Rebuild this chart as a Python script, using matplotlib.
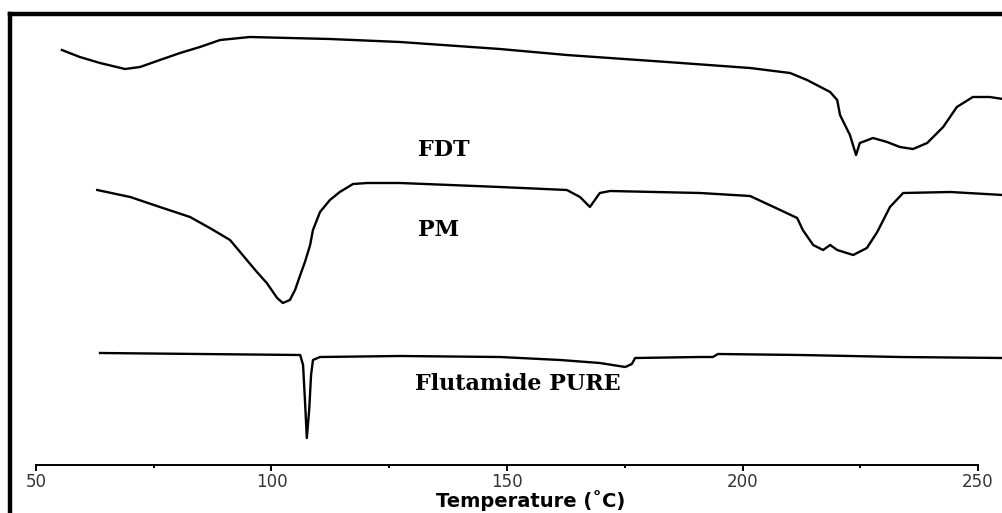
import matplotlib.pyplot as plt
from matplotlib.lines import Line2D
from matplotlib.ticker import MultipleLocator

# DSC thermograms, heat flow in arbitrary units (curves stacked)
fdt_temp = [55.5, 59.3, 63.6, 68.9, 72.1, 76.3, 80.6, 84.8, 89.1, 95.4, 112.4, 127.3,
            148.5, 162.7, 184.0, 201.6, 210.1, 213.7, 218.6, 220.1, 220.7, 222.8,
            224.1, 224.9, 227.7, 230.7, 233.4, 236.2, 239.2, 242.6, 245.5, 248.9,
            252.5, 255.3]
fdt_heat = [463, 456, 450, 444, 446, 453, 460, 466, 473, 476, 474, 471,
            464, 458, 451, 445, 440, 433, 421, 413, 398, 378,
            358, 370, 375, 371, 366, 364, 370, 386, 406, 416,
            416, 414]

pm_temp = [63.0, 70.0, 76.3, 82.7, 86.9, 91.2, 94.4, 96.9, 99.0, 101.2, 102.4,
           103.9, 105.0, 106.1, 107.1, 108.2, 108.8, 110.3, 112.4, 114.5, 117.3,
           120.3, 127.3, 148.5, 162.7, 165.5, 167.6, 169.7, 171.9, 191.0, 201.6,
           208.0, 211.6, 212.8, 215.0, 217.1, 218.6, 220.1, 223.5, 226.4, 228.6,
           231.3, 234.1, 244.1, 255.3]
pm_heat = [323, 316, 306, 296, 285, 273, 255, 241, 230, 215, 210,
           213, 223, 238, 251, 268, 283, 301, 313, 321, 329,
           330, 330, 326, 323, 316, 306, 320, 322, 320, 317,
           303, 295, 283, 268, 263, 268, 263, 258, 265, 281,
           306, 320, 321, 318]

pure_temp = [63.6, 84.8, 106.1, 106.7, 107.1, 107.5, 108.0, 108.4, 108.8, 110.3,
             127.3, 148.5, 161.3, 169.7, 175.1, 176.5, 177.2, 191.0, 193.7, 194.8,
             212.2, 233.4, 255.3]
pure_heat = [160, 159, 158, 148, 113, 75, 103, 138, 153, 156,
             157, 156, 153, 150, 146, 149, 155, 156, 156, 159,
             158, 156, 155]

labels = ["FDT", "PM", "Flutamide PURE"]
label_temp = [131.1, 131.1, 130.5]
label_heat = [363, 283, 129]

major_ticks = [50, 100, 150, 200, 250]

fig = plt.figure(figsize=(10.03, 5.13), dpi=100)
ax = fig.add_axes([0, 0, 1, 1])
ax.set_xlim(42.36, 255.3)
ax.set_ylim(0, 513)

for t, h in [(fdt_temp, fdt_heat), (pm_temp, pm_heat), (pure_temp, pure_heat)]:
    ax.plot(t, h, color="black", lw=1.7, solid_joinstyle="round")

for text, t, h in zip(labels, label_temp, label_heat):
    ax.text(t, h, text, fontsize=16, fontweight="bold", family="DejaVu Serif",
            ha="left", va="center")

for s in ["left", "top", "right"]:
    ax.spines[s].set_visible(False)
ax.spines["bottom"].set_position(("data", 48))
ax.spines["bottom"].set_bounds(50, 250)
ax.spines["bottom"].set_linewidth(1.4)
ax.set_yticks([])
ax.set_xticks(major_ticks)
ax.xaxis.set_minor_locator(MultipleLocator(25))
ax.tick_params(axis="x", which="major", length=4, width=1.4, pad=2,
               labelsize=12, labelcolor="#333333")
ax.tick_params(axis="x", which="minor", length=2.5, width=1.4)

ax.text(155, 12, "Temperature (˚C)", fontsize=14, fontweight="bold",
        family="DejaVu Sans", ha="center", va="center")

# outer frame (left and top edges visible)
fy = (513 - 14) / 513
fx = 10 / 1003
fig.add_artist(Line2D([fx, fx], [-0.05, fy], color="black", lw=3.2))
fig.add_artist(Line2D([fx, 1.05], [fy, fy], color="black", lw=3.2))

fig.savefig("out.png", dpi=100, facecolor="white")
